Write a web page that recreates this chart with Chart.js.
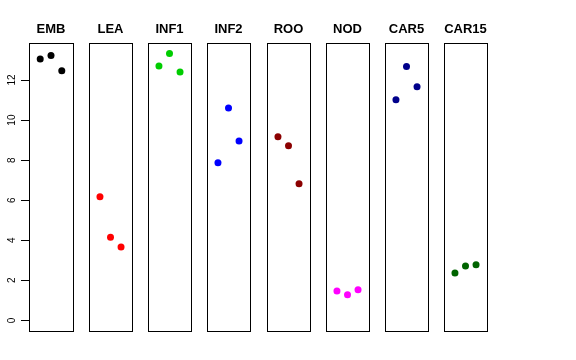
<!DOCTYPE html>
<html>
<head>
<meta charset="utf-8">
<script src="https://cdn.jsdelivr.net/npm/chart.js@4.4.0/dist/chart.umd.min.js"></script>
<style>
  body { margin: 0; background: #fff; }
  #wrap { position: relative; width: 576px; height: 360px; }
  #wrap canvas { position: absolute; top: 0; }
</style>
</head>
<body>
<div id="wrap"></div>
<script>
// groupes et couleurs
const groups = ['EMB', 'LEA', 'INF1', 'INF2', 'ROO', 'NOD', 'CAR5', 'CAR15'];
const colors = ['#000000', '#FF0000', '#00CD00', '#0000FF', '#8B0000', '#FF00FF', '#00008B', '#006400'];

// valeurs (3 points par panneau)
const EMB = [13.05, 13.23, 12.47];
const LEA = [6.17, 4.15, 3.67];
const INF1 = [12.7, 13.33, 12.4];
const INF2 = [7.87, 10.6, 8.96];
const ROO = [9.17, 8.72, 6.82];
const NOD = [1.47, 1.28, 1.53];
const CAR5 = [11.02, 12.68, 11.67];
const CAR15 = [2.37, 2.72, 2.78];
const series = [EMB, LEA, INF1, INF2, ROO, NOD, CAR5, CAR15];

const yTicks = [0, 2, 4, 6, 8, 10, 12];

// position gauche de chaque panneau
const lefts = [29, 88, 147, 206, 266, 325, 384, 443];
const panelW = 44;

// cadre autour de la zone du graphique
const boxPlugin = {
    id: 'box',
    afterDraw(chart) {
        const a = chart.chartArea;
        const c = chart.ctx;
        c.save();
        c.strokeStyle = '#000';
        c.lineWidth = 1;
        c.strokeRect(Math.round(a.left) + 0.5, Math.round(a.top) + 0.5, Math.round(a.right - a.left), Math.round(a.bottom - a.top));
        c.restore();
    }
};

const wrap = document.getElementById('wrap');

groups.forEach(function(name, i) {
    const first = i === 0;
    const canvas = document.createElement('canvas');
    const left = first ? 0 : lefts[i] - 3;
    const width = first ? lefts[0] + panelW + 4 : panelW + 7;
    canvas.width = width;
    canvas.height = 360;
    canvas.style.left = left + 'px';
    canvas.style.width = width + 'px';
    canvas.style.height = '360px';
    wrap.appendChild(canvas);

    new Chart(canvas.getContext('2d'), {
        type: 'scatter',
        data: {
            datasets: [{
                data: series[i].map((v, k) => ({ x: k + 1, y: v })),
                backgroundColor: colors[i],
                borderWidth: 0,
                pointRadius: 3.5
            }]
        },
        options: {
            responsive: false,
            animation: false,
            devicePixelRatio: 1,
            layout: { padding: { left: first ? 0 : 3, right: 4, top: 0, bottom: 29 } },
            plugins: {
                legend: { display: false },
                tooltip: { enabled: false },
                title: {
                    display: true,
                    text: name,
                    fullSize: false,
                    color: '#000',
                    font: { family: 'Liberation Sans, Arial, sans-serif', size: 13, weight: 'bold', lineHeight: 1.2 },
                    padding: { top: 22, bottom: 5.4 }
                }
            },
            scales: {
                x: { type: 'linear', min: -0.04, max: 4.04, display: false },
                y: {
                    min: -0.53,
                    max: 13.85,
                    display: first,
                    afterFit(s) { if (first) s.width = 29; },
                    afterBuildTicks(s) { s.ticks = yTicks.map(v => ({ value: v })); },
                    grid: { drawOnChartArea: false, drawTicks: true, tickLength: 8, color: '#000' },
                    border: { display: false },
                    ticks: {
                        minRotation: 90,
                        maxRotation: 90,
                        crossAlign: 'center',
                        padding: 3,
                        color: '#000',
                        font: { family: 'Liberation Sans, Arial, sans-serif', size: 10 }
                    }
                }
            }
        },
        plugins: [boxPlugin]
    });
});
</script>
</body>
</html>
